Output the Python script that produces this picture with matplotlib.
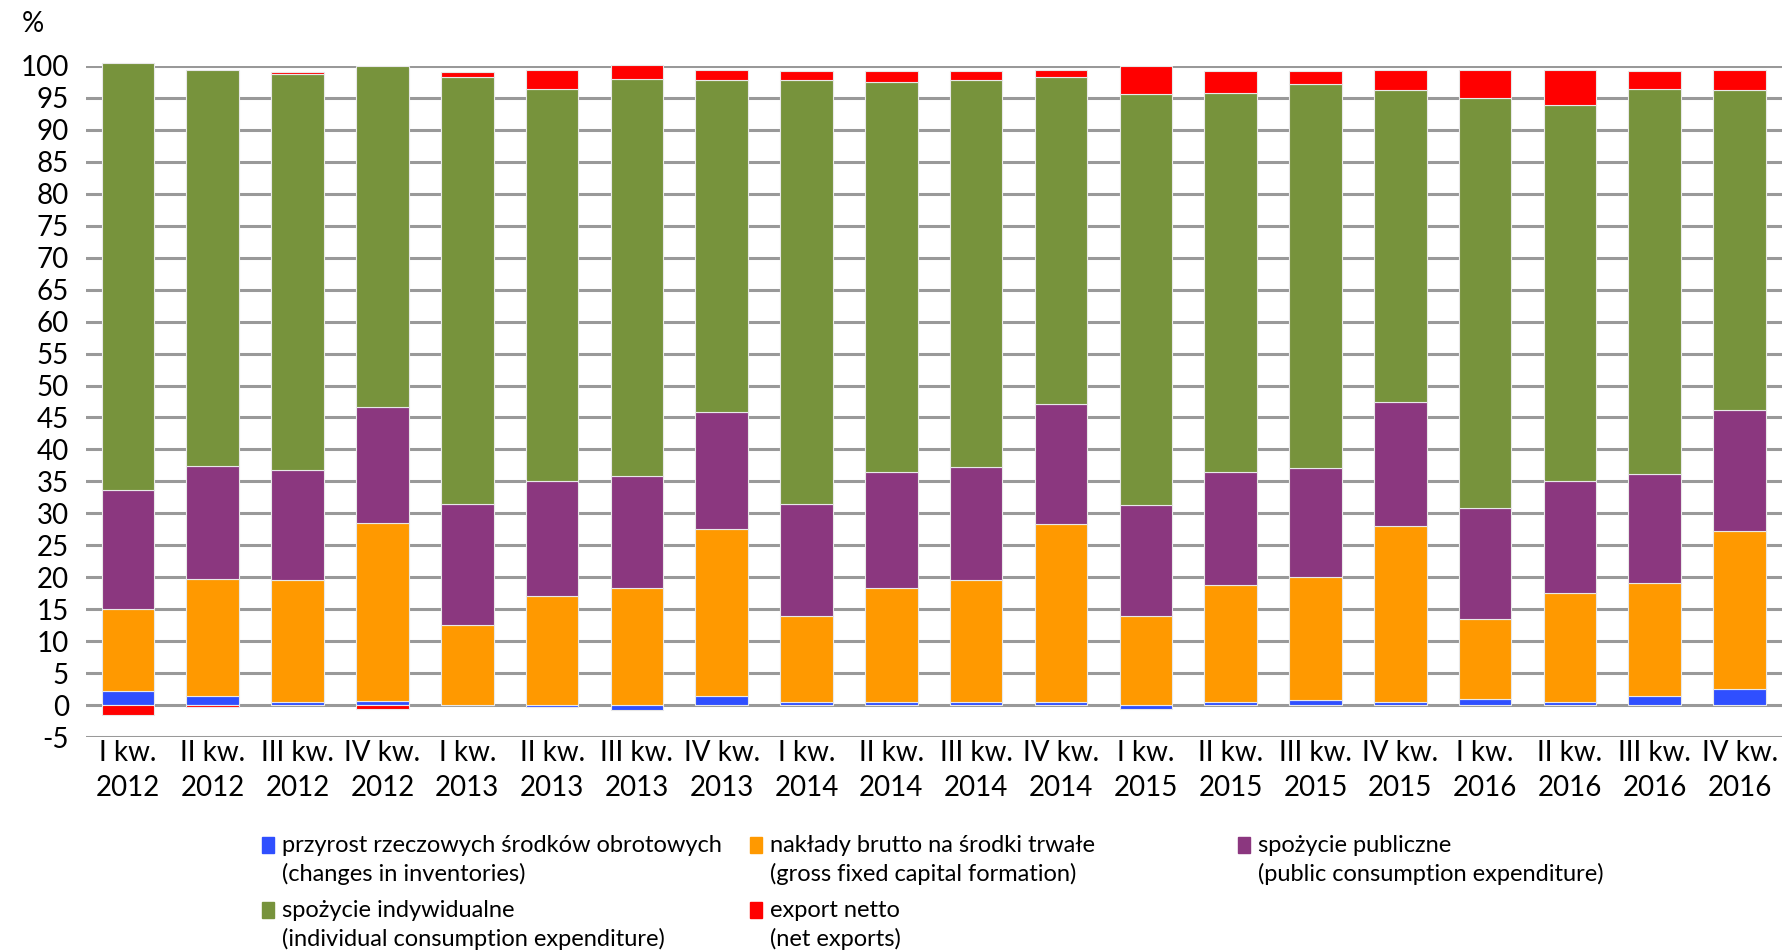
import matplotlib
matplotlib.use("Agg")
import matplotlib.pyplot as plt
from matplotlib.patches import Rectangle
import numpy as np

plt.rcParams['font.family'] = ['Lato', 'DejaVu Sans']
plt.rcParams['axes.unicode_minus'] = False

# quarters
quarters = ["I kw.\n2012", "II kw.\n2012", "III kw.\n2012", "IV kw.\n2012",
            "I kw.\n2013", "II kw.\n2013", "III kw.\n2013", "IV kw.\n2013",
            "I kw.\n2014", "II kw.\n2014", "III kw.\n2014", "IV kw.\n2014",
            "I kw.\n2015", "II kw.\n2015", "III kw.\n2015", "IV kw.\n2015",
            "I kw.\n2016", "II kw.\n2016", "III kw.\n2016", "IV kw.\n2016"]

# shares in %
inventories = [2.3, 1.5, 0.5, 0.7, 0.1, -0.2, -0.8, 1.4, 0.6, 0.6,
               0.5, 0.5, -0.5, 0.5, 0.8, 0.5, 1.0, 0.5, 1.5, 2.6]
fixed_capital = [12.8, 18.3, 19.1, 27.8, 12.4, 17.1, 18.3, 26.2, 13.3, 17.8,
                 19.1, 27.9, 14.0, 18.3, 19.2, 27.6, 12.5, 17.0, 17.6, 24.6]
public_cons = [18.6, 17.6, 17.2, 18.2, 18.9, 18.0, 17.5, 18.2, 17.5, 18.1,
               17.7, 18.7, 17.3, 17.7, 17.1, 19.4, 17.3, 17.6, 17.1, 18.9]
individual_cons = [66.7, 62.0, 61.9, 53.2, 66.8, 61.2, 62.1, 51.9, 66.3, 61.0,
                   60.4, 51.2, 64.3, 59.3, 60.1, 48.7, 64.2, 58.7, 60.2, 50.1]
net_exports = [-1.5, -0.3, 0.3, -0.5, 0.8, 3.0, 2.2, 1.6, 1.5, 1.7,
               1.5, 1.0, 4.3, 3.4, 1.9, 3.2, 4.3, 5.5, 2.8, 3.2]

series = [inventories, fixed_capital, public_cons, individual_cons, net_exports]
colors = ["#2F4FFF", "#FF9900", "#8B377F", "#77933C", "#FF0000"]
labels = ["przyrost rzeczowych środków obrotowych\n(changes in inventories)",
          "nakłady brutto na środki trwałe\n(gross fixed capital formation)",
          "spożycie publiczne\n(public consumption expenditure)",
          "spożycie indywidualne\n(individual consumption expenditure)",
          "export netto\n(net exports)"]

fig = plt.figure(figsize=(17.82, 9.52), dpi=100)
ax = fig.add_axes([0.048, 0.2255, 0.952, 0.7055])

x = np.arange(len(quarters))
pos = np.zeros(len(quarters))
neg = np.zeros(len(quarters))
for vals, col in zip(series, colors):
    v = np.array(vals)
    base = np.where(v >= 0, pos, neg)
    ax.bar(x, v, bottom=base, width=0.62, color=col, edgecolor="#E8E8E8",
           linewidth=0.8, zorder=3, clip_on=False)
    pos = pos + np.where(v >= 0, v, 0)
    neg = neg + np.where(v < 0, v, 0)

ax.set_xlim(-0.5, len(quarters) - 0.5)
ax.set_ylim(-5, 100)
ax.set_yticks(np.arange(-5, 101, 5))
ax.yaxis.grid(True, color="#999999", linewidth=2.2, zorder=0)
ax.set_axisbelow(True)
for s in ax.spines.values():
    s.set_visible(False)
ax.tick_params(length=0, labelsize=20)
ax.tick_params(axis="y", pad=12)
ax.set_xticks(x)
ax.set_xticklabels(quarters, linespacing=1.4)
ax.tick_params(axis="x", pad=2)

fig.text(0.012, 0.975, "%", fontsize=20, va="center")

# legend
leg_x = [0.147, 0.421, 0.695, 0.147, 0.421]
leg_y = [0.112, 0.112, 0.112, 0.044, 0.044]
for lab, col, lx, ly in zip(labels, colors, leg_x, leg_y):
    fig.add_artist(Rectangle((lx, ly - 0.008), 0.0065, 0.017, color=col,
                             transform=fig.transFigure))
    l1, l2 = lab.split("\n")
    fig.text(lx + 0.011, ly, l1, fontsize=17, va="center")
    fig.text(lx + 0.011, ly - 0.0305, l2, fontsize=17, va="center")

fig.savefig("out.png", dpi=100)
